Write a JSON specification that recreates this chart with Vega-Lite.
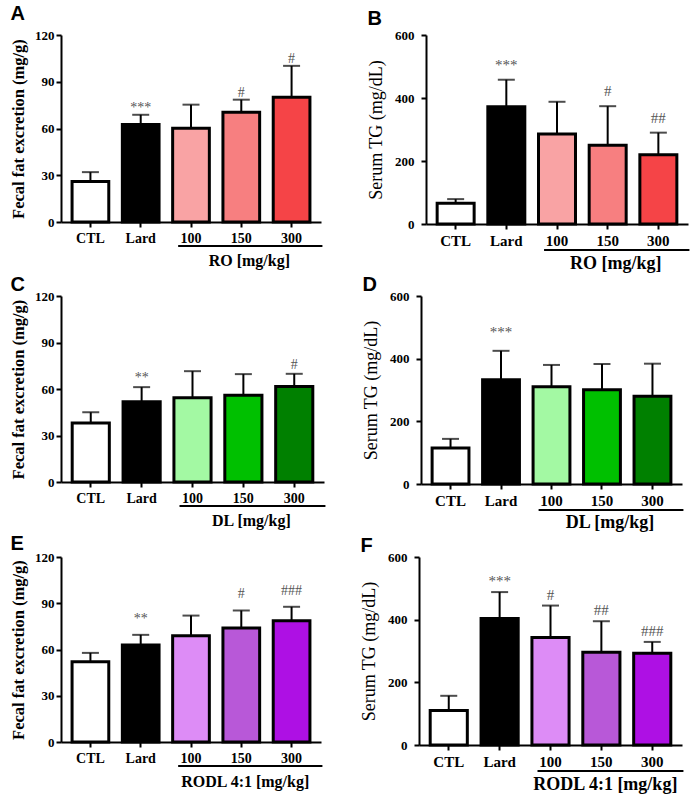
{
  "$schema": "https://vega.github.io/schema/vega-lite/v6.json",
  "background": "white",
  "padding": {"left": 10, "top": 4, "right": 2, "bottom": 2},
  "datasets": {
    "fecalRO": [
      {"g": "CTL", "v": 26, "hi": 32, "sig": ""},
      {"g": "Lard", "v": 62.5, "hi": 68.8, "sig": "***"},
      {"g": "100", "v": 60.2, "hi": 75.3, "sig": ""},
      {"g": "150", "v": 70.5, "hi": 78.5, "sig": "#"},
      {"g": "300", "v": 80, "hi": 100.2, "sig": "#"}
    ],
    "tgRO": [
      {"g": "CTL", "v": 66, "hi": 79, "sig": ""},
      {"g": "Lard", "v": 372, "hi": 458, "sig": "***"},
      {"g": "100", "v": 286, "hi": 388, "sig": ""},
      {"g": "150", "v": 250, "hi": 374, "sig": "#"},
      {"g": "300", "v": 220, "hi": 290, "sig": "##"}
    ],
    "fecalDL": [
      {"g": "CTL", "v": 38, "hi": 45, "sig": ""},
      {"g": "Lard", "v": 51.7, "hi": 61.2, "sig": "**"},
      {"g": "100", "v": 54.3, "hi": 71.5, "sig": ""},
      {"g": "150", "v": 56, "hi": 69.6, "sig": ""},
      {"g": "300", "v": 61.6, "hi": 69.8, "sig": "#"}
    ],
    "tgDL": [
      {"g": "CTL", "v": 115, "hi": 144, "sig": ""},
      {"g": "Lard", "v": 333, "hi": 425, "sig": "***"},
      {"g": "100", "v": 310, "hi": 380, "sig": ""},
      {"g": "150", "v": 301, "hi": 383, "sig": ""},
      {"g": "300", "v": 280, "hi": 384, "sig": ""}
    ],
    "fecalRODL": [
      {"g": "CTL", "v": 52, "hi": 57.8, "sig": ""},
      {"g": "Lard", "v": 63, "hi": 69.5, "sig": "**"},
      {"g": "100", "v": 69, "hi": 82, "sig": ""},
      {"g": "150", "v": 74, "hi": 85.3, "sig": "#"},
      {"g": "300", "v": 78.6, "hi": 87.7, "sig": "###"}
    ],
    "tgRODL": [
      {"g": "CTL", "v": 110, "hi": 157, "sig": ""},
      {"g": "Lard", "v": 404, "hi": 488, "sig": "***"},
      {"g": "100", "v": 343, "hi": 445, "sig": "#"},
      {"g": "150", "v": 296, "hi": 395, "sig": "##"},
      {"g": "300", "v": 293, "hi": 329, "sig": "###"}
    ]
  },
  "spacing": 2,
  "resolve": {"scale": {"fill": "independent"}},
  "vconcat": [
    {
      "spacing": 43,
      "resolve": {"scale": {"fill": "independent"}},
      "hconcat": [
        {
          "width": 260, "height": 187,
          "title": {"text": "A", "offset": 5},
          "data": {"name": "fecalRO"},
          "encoding": {
            "x": {"field": "g", "type": "nominal", "title": null,
                  "scale": {"domain": ["CTL", "Lard", "100", "150", "300"], "paddingInner": 0.27, "paddingOuter": 0.22},
                  "axis": {"labelFontSize": 14}}
          },
          "layer": [
            {"mark": {"type": "rule", "strokeWidth": 2, "color": "black"},
             "encoding": {"y": {"field": "v", "type": "quantitative", "title": "Fecal fat excretion (mg/g)",
                                "scale": {"domain": [0, 120]},
                                "axis": {"values": [0, 30, 60, 90, 120], "labelFontSize": 13, "titleFontSize": 16.5, "titleFontWeight": "bold", "labelPadding": 2, "titlePadding": 8}},
                          "y2": {"field": "hi"}}},
            {"mark": {"type": "tick", "size": 17, "thickness": 2, "color": "black"},
             "encoding": {"y": {"field": "hi", "type": "quantitative", "title": "Fecal fat excretion (mg/g)"}}},
            {"mark": {"type": "bar", "stroke": "black", "strokeWidth": 3},
             "encoding": {"y": {"field": "v", "type": "quantitative", "title": "Fecal fat excretion (mg/g)"},
                          "fill": {"field": "g", "type": "nominal", "legend": null,
                                   "scale": {"domain": ["CTL", "Lard", "100", "150", "300"], "range": ["#ffffff", "#000000", "#F9A3A4", "#F77F80", "#F54447"]}}}},
            {"mark": {"type": "text", "font": "Liberation Serif", "fontSize": 14, "color": "#555555", "dy": -3, "baseline": "alphabetic"},
             "encoding": {"y": {"field": "hi", "type": "quantitative", "title": "Fecal fat excretion (mg/g)"}, "text": {"field": "sig"}}},
            {"data": {"values": [{"from": "100", "to": "300", "mid": "150", "label": "RO [mg/kg]"}]},
             "mark": {"type": "rule", "strokeWidth": 2, "color": "black", "yOffset": 24},
             "encoding": {"x": {"field": "from", "type": "nominal", "bandPosition": 0.15, "title": null},
                          "x2": {"field": "to", "bandPosition": 1.34},
                          "y": {"datum": 0, "type": "quantitative", "title": "Fecal fat excretion (mg/g)"}}},
            {"data": {"values": [{"from": "100", "to": "300", "mid": "150", "label": "RO [mg/kg]"}]},
             "mark": {"type": "text", "font": "Liberation Serif", "fontWeight": "bold", "fontSize": 16, "dy": 39, "dx": 8, "baseline": "middle", "color": "black"},
             "encoding": {"x": {"field": "mid", "type": "nominal", "title": null},
                          "y": {"datum": 0, "type": "quantitative", "title": "Fecal fat excretion (mg/g)"},
                          "text": {"field": "label"}}}
          ]
        },
        {
          "width": 262, "height": 189,
          "title": {"text": "B", "offset": 0},
          "data": {"name": "tgRO"},
          "encoding": {
            "x": {"field": "g", "type": "nominal", "title": null,
                  "scale": {"domain": ["CTL", "Lard", "100", "150", "300"], "paddingInner": 0.27, "paddingOuter": 0.22},
                  "axis": {"labelFontSize": 15}}
          },
          "layer": [
            {"mark": {"type": "rule", "strokeWidth": 2, "color": "black"},
             "encoding": {"y": {"field": "v", "type": "quantitative", "title": "Serum TG (mg/dL)",
                                "scale": {"domain": [0, 600]},
                                "axis": {"values": [0, 200, 400, 600], "labelFontSize": 13, "titleFontSize": 18, "titleFontWeight": "normal", "labelPadding": 7, "titlePadding": 9}},
                          "y2": {"field": "hi"}}},
            {"mark": {"type": "tick", "size": 17, "thickness": 2, "color": "black"},
             "encoding": {"y": {"field": "hi", "type": "quantitative", "title": "Serum TG (mg/dL)"}}},
            {"mark": {"type": "bar", "stroke": "black", "strokeWidth": 3},
             "encoding": {"y": {"field": "v", "type": "quantitative", "title": "Serum TG (mg/dL)"},
                          "fill": {"field": "g", "type": "nominal", "legend": null,
                                   "scale": {"domain": ["CTL", "Lard", "100", "150", "300"], "range": ["#ffffff", "#000000", "#F9A3A4", "#F77F80", "#F54447"]}}}},
            {"mark": {"type": "text", "font": "Liberation Serif", "fontSize": 15, "color": "#555555", "dy": -10, "baseline": "alphabetic"},
             "encoding": {"y": {"field": "hi", "type": "quantitative", "title": "Serum TG (mg/dL)"}, "text": {"field": "sig"}}},
            {"data": {"values": [{"from": "100", "to": "300", "mid": "150", "label": "RO [mg/kg]"}]},
             "mark": {"type": "rule", "strokeWidth": 2, "color": "black", "yOffset": 26},
             "encoding": {"x": {"field": "from", "type": "nominal", "bandPosition": 0.15, "title": null},
                          "x2": {"field": "to", "bandPosition": 1.34},
                          "y": {"datum": 0, "type": "quantitative", "title": "Serum TG (mg/dL)"}}},
            {"data": {"values": [{"from": "100", "to": "300", "mid": "150", "label": "RO [mg/kg]"}]},
             "mark": {"type": "text", "font": "Liberation Serif", "fontWeight": "bold", "fontSize": 18, "dy": 40, "dx": 8, "baseline": "middle", "color": "black"},
             "encoding": {"x": {"field": "mid", "type": "nominal", "title": null},
                          "y": {"datum": 0, "type": "quantitative", "title": "Serum TG (mg/dL)"},
                          "text": {"field": "label"}}}
          ]
        }
      ]
    },
    {
      "spacing": 2,
      "resolve": {"scale": {"fill": "independent"}},
      "vconcat": [
        {
          "spacing": 35,
          "resolve": {"scale": {"fill": "independent"}},
          "hconcat": [
            {
              "width": 263, "height": 186,
              "title": {"text": "C", "offset": -5},
              "data": {"name": "fecalDL"},
              "encoding": {
                "x": {"field": "g", "type": "nominal", "title": null,
                      "scale": {"domain": ["CTL", "Lard", "100", "150", "300"], "paddingInner": 0.27, "paddingOuter": 0.22},
                      "axis": {"labelFontSize": 14}}
              },
              "layer": [
                {"mark": {"type": "rule", "strokeWidth": 2, "color": "black"},
                 "encoding": {"y": {"field": "v", "type": "quantitative", "title": "Fecal fat excretion (mg/g)",
                                    "scale": {"domain": [0, 120]},
                                    "axis": {"values": [0, 30, 60, 90, 120], "labelFontSize": 13, "titleFontSize": 16.5, "titleFontWeight": "bold", "labelPadding": 2, "titlePadding": 8}},
                              "y2": {"field": "hi"}}},
                {"mark": {"type": "tick", "size": 17, "thickness": 2, "color": "black"},
                 "encoding": {"y": {"field": "hi", "type": "quantitative", "title": "Fecal fat excretion (mg/g)"}}},
                {"mark": {"type": "bar", "stroke": "black", "strokeWidth": 3},
                 "encoding": {"y": {"field": "v", "type": "quantitative", "title": "Fecal fat excretion (mg/g)"},
                              "fill": {"field": "g", "type": "nominal", "legend": null,
                                       "scale": {"domain": ["CTL", "Lard", "100", "150", "300"], "range": ["#ffffff", "#000000", "#A3F9A3", "#00C000", "#008000"]}}}},
                {"mark": {"type": "text", "font": "Liberation Serif", "fontSize": 14, "color": "#555555", "dy": -5, "baseline": "alphabetic"},
                 "encoding": {"y": {"field": "hi", "type": "quantitative", "title": "Fecal fat excretion (mg/g)"}, "text": {"field": "sig"}}},
                {"data": {"values": [{"from": "100", "to": "300", "mid": "150", "label": "DL [mg/kg]"}]},
                 "mark": {"type": "rule", "strokeWidth": 2, "color": "black", "yOffset": 24},
                 "encoding": {"x": {"field": "from", "type": "nominal", "bandPosition": 0.15, "title": null},
                              "x2": {"field": "to", "bandPosition": 1.34},
                              "y": {"datum": 0, "type": "quantitative", "title": "Fecal fat excretion (mg/g)"}}},
                {"data": {"values": [{"from": "100", "to": "300", "mid": "150", "label": "DL [mg/kg]"}]},
                 "mark": {"type": "text", "font": "Liberation Serif", "fontWeight": "bold", "fontSize": 16, "dy": 39, "dx": 8, "baseline": "middle", "color": "black"},
                 "encoding": {"x": {"field": "mid", "type": "nominal", "title": null},
                              "y": {"datum": 0, "type": "quantitative", "title": "Fecal fat excretion (mg/g)"},
                              "text": {"field": "label"}}}
              ]
            },
            {
              "width": 261, "height": 188,
              "title": {"text": "D", "offset": -5},
              "data": {"name": "tgDL"},
              "encoding": {
                "x": {"field": "g", "type": "nominal", "title": null,
                      "scale": {"domain": ["CTL", "Lard", "100", "150", "300"], "paddingInner": 0.27, "paddingOuter": 0.22},
                      "axis": {"labelFontSize": 15}}
              },
              "layer": [
                {"mark": {"type": "rule", "strokeWidth": 2, "color": "black"},
                 "encoding": {"y": {"field": "v", "type": "quantitative", "title": "Serum TG (mg/dL)",
                                    "scale": {"domain": [0, 600]},
                                    "axis": {"values": [0, 200, 400, 600], "labelFontSize": 13, "titleFontSize": 18, "titleFontWeight": "normal", "labelPadding": 7, "titlePadding": 9}},
                              "y2": {"field": "hi"}}},
                {"mark": {"type": "tick", "size": 17, "thickness": 2, "color": "black"},
                 "encoding": {"y": {"field": "hi", "type": "quantitative", "title": "Serum TG (mg/dL)"}}},
                {"mark": {"type": "bar", "stroke": "black", "strokeWidth": 3},
                 "encoding": {"y": {"field": "v", "type": "quantitative", "title": "Serum TG (mg/dL)"},
                              "fill": {"field": "g", "type": "nominal", "legend": null,
                                       "scale": {"domain": ["CTL", "Lard", "100", "150", "300"], "range": ["#ffffff", "#000000", "#A3F9A3", "#00C000", "#008000"]}}}},
                {"mark": {"type": "text", "font": "Liberation Serif", "fontSize": 15, "color": "#555555", "dy": -14, "baseline": "alphabetic"},
                 "encoding": {"y": {"field": "hi", "type": "quantitative", "title": "Serum TG (mg/dL)"}, "text": {"field": "sig"}}},
                {"data": {"values": [{"from": "100", "to": "300", "mid": "150", "label": "DL [mg/kg]"}]},
                 "mark": {"type": "rule", "strokeWidth": 2, "color": "black", "yOffset": 26},
                 "encoding": {"x": {"field": "from", "type": "nominal", "bandPosition": 0.15, "title": null},
                              "x2": {"field": "to", "bandPosition": 1.34},
                              "y": {"datum": 0, "type": "quantitative", "title": "Serum TG (mg/dL)"}}},
                {"data": {"values": [{"from": "100", "to": "300", "mid": "150", "label": "DL [mg/kg]"}]},
                 "mark": {"type": "text", "font": "Liberation Serif", "fontWeight": "bold", "fontSize": 18, "dy": 39, "dx": 8, "baseline": "middle", "color": "black"},
                 "encoding": {"x": {"field": "mid", "type": "nominal", "title": null},
                              "y": {"datum": 0, "type": "quantitative", "title": "Serum TG (mg/dL)"},
                              "text": {"field": "label"}}}
              ]
            }
          ]
        },
        {
          "spacing": 36,
          "resolve": {"scale": {"fill": "independent"}},
          "hconcat": [
            {
              "width": 260, "height": 185,
              "title": {"text": "E", "offset": -3},
              "data": {"name": "fecalRODL"},
              "encoding": {
                "x": {"field": "g", "type": "nominal", "title": null,
                      "scale": {"domain": ["CTL", "Lard", "100", "150", "300"], "paddingInner": 0.27, "paddingOuter": 0.22},
                      "axis": {"labelFontSize": 14}}
              },
              "layer": [
                {"mark": {"type": "rule", "strokeWidth": 2, "color": "black"},
                 "encoding": {"y": {"field": "v", "type": "quantitative", "title": "Fecal fat excretion (mg/g)",
                                    "scale": {"domain": [0, 120]},
                                    "axis": {"values": [0, 30, 60, 90, 120], "labelFontSize": 13, "titleFontSize": 16.5, "titleFontWeight": "bold", "labelPadding": 2, "titlePadding": 8}},
                              "y2": {"field": "hi"}}},
                {"mark": {"type": "tick", "size": 17, "thickness": 2, "color": "black"},
                 "encoding": {"y": {"field": "hi", "type": "quantitative", "title": "Fecal fat excretion (mg/g)"}}},
                {"mark": {"type": "bar", "stroke": "black", "strokeWidth": 3},
                 "encoding": {"y": {"field": "v", "type": "quantitative", "title": "Fecal fat excretion (mg/g)"},
                              "fill": {"field": "g", "type": "nominal", "legend": null,
                                       "scale": {"domain": ["CTL", "Lard", "100", "150", "300"], "range": ["#ffffff", "#000000", "#DD8CF6", "#B858D8", "#AE10E4"]}}}},
                {"mark": {"type": "text", "font": "Liberation Serif", "fontSize": 14, "color": "#555555", "dy": -12, "baseline": "alphabetic"},
                 "encoding": {"y": {"field": "hi", "type": "quantitative", "title": "Fecal fat excretion (mg/g)"}, "text": {"field": "sig"}}},
                {"data": {"values": [{"from": "100", "to": "300", "mid": "150", "label": "RODL 4:1 [mg/kg]"}]},
                 "mark": {"type": "rule", "strokeWidth": 2, "color": "black", "yOffset": 24},
                 "encoding": {"x": {"field": "from", "type": "nominal", "bandPosition": 0.15, "title": null},
                              "x2": {"field": "to", "bandPosition": 1.34},
                              "y": {"datum": 0, "type": "quantitative", "title": "Fecal fat excretion (mg/g)"}}},
                {"data": {"values": [{"from": "100", "to": "300", "mid": "150", "label": "RODL 4:1 [mg/kg]"}]},
                 "mark": {"type": "text", "font": "Liberation Serif", "fontWeight": "bold", "fontSize": 16, "dy": 40, "dx": 4, "baseline": "middle", "color": "black"},
                 "encoding": {"x": {"field": "mid", "type": "nominal", "title": null},
                              "y": {"datum": 0, "type": "quantitative", "title": "Fecal fat excretion (mg/g)"},
                              "text": {"field": "label"}}}
              ]
            },
            {
              "width": 263, "height": 188,
              "title": {"text": "F", "offset": -5},
              "data": {"name": "tgRODL"},
              "encoding": {
                "x": {"field": "g", "type": "nominal", "title": null,
                      "scale": {"domain": ["CTL", "Lard", "100", "150", "300"], "paddingInner": 0.27, "paddingOuter": 0.22},
                      "axis": {"labelFontSize": 15}}
              },
              "layer": [
                {"mark": {"type": "rule", "strokeWidth": 2, "color": "black"},
                 "encoding": {"y": {"field": "v", "type": "quantitative", "title": "Serum TG (mg/dL)",
                                    "scale": {"domain": [0, 600]},
                                    "axis": {"values": [0, 200, 400, 600], "labelFontSize": 13, "titleFontSize": 18, "titleFontWeight": "normal", "labelPadding": 7, "titlePadding": 9}},
                              "y2": {"field": "hi"}}},
                {"mark": {"type": "tick", "size": 17, "thickness": 2, "color": "black"},
                 "encoding": {"y": {"field": "hi", "type": "quantitative", "title": "Serum TG (mg/dL)"}}},
                {"mark": {"type": "bar", "stroke": "black", "strokeWidth": 3},
                 "encoding": {"y": {"field": "v", "type": "quantitative", "title": "Serum TG (mg/dL)"},
                              "fill": {"field": "g", "type": "nominal", "legend": null,
                                       "scale": {"domain": ["CTL", "Lard", "100", "150", "300"], "range": ["#ffffff", "#000000", "#DD8CF6", "#B858D8", "#AE10E4"]}}}},
                {"mark": {"type": "text", "font": "Liberation Serif", "fontSize": 15, "color": "#555555", "dy": -6, "baseline": "alphabetic"},
                 "encoding": {"y": {"field": "hi", "type": "quantitative", "title": "Serum TG (mg/dL)"}, "text": {"field": "sig"}}},
                {"data": {"values": [{"from": "100", "to": "300", "mid": "150", "label": "RODL 4:1 [mg/kg]"}]},
                 "mark": {"type": "rule", "strokeWidth": 2, "color": "black", "yOffset": 26},
                 "encoding": {"x": {"field": "from", "type": "nominal", "bandPosition": 0.15, "title": null},
                              "x2": {"field": "to", "bandPosition": 1.34},
                              "y": {"datum": 0, "type": "quantitative", "title": "Serum TG (mg/dL)"}}},
                {"data": {"values": [{"from": "100", "to": "300", "mid": "150", "label": "RODL 4:1 [mg/kg]"}]},
                 "mark": {"type": "text", "font": "Liberation Serif", "fontWeight": "bold", "fontSize": 18, "dy": 40, "dx": 4, "baseline": "middle", "color": "black"},
                 "encoding": {"x": {"field": "mid", "type": "nominal", "title": null},
                              "y": {"datum": 0, "type": "quantitative", "title": "Serum TG (mg/dL)"},
                              "text": {"field": "label"}}}
              ]
            }
          ]
        }
      ]
    }
  ],
  "config": {
    "view": {"stroke": null},
    "axis": {"domainColor": "black", "domainWidth": 2, "tickColor": "black", "tickWidth": 2, "tickSize": 5, "grid": false,
             "labelColor": "black", "labelFont": "Liberation Serif", "labelFontWeight": "bold",
             "titleFont": "Liberation Serif", "titleColor": "black"},
    "axisX": {"labelAngle": 0, "labelPadding": 4},
    "title": {"font": "Liberation Sans", "fontSize": 20, "fontWeight": "bold", "anchor": "start", "color": "black"}
  }
}
